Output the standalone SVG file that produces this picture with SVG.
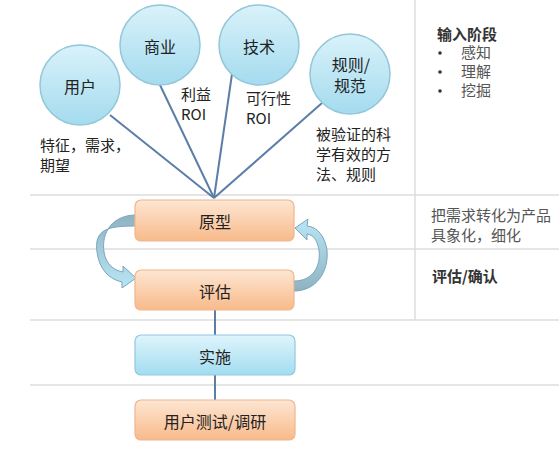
<svg xmlns="http://www.w3.org/2000/svg" width="559" height="457" viewBox="0 0 559 457">
<defs>
<linearGradient id="gCircle" x1="0" y1="0" x2="0" y2="1">
<stop offset="0" stop-color="#d9f2fa"/>
<stop offset="1" stop-color="#a4dbee"/>
</linearGradient>
<linearGradient id="gOrange" x1="0" y1="0" x2="0" y2="1">
<stop offset="0" stop-color="#fde6d3"/>
<stop offset="1" stop-color="#f8ba8a"/>
</linearGradient>
<linearGradient id="gBlue" x1="0" y1="0" x2="0" y2="1">
<stop offset="0" stop-color="#dff5fc"/>
<stop offset="1" stop-color="#a2dcf0"/>
</linearGradient>
<linearGradient id="gArrowL" x1="0" y1="0" x2="0" y2="1">
<stop offset="0" stop-color="#8fb2c2"/>
<stop offset="1" stop-color="#b8e6f6"/>
</linearGradient>
<linearGradient id="gArrowR" x1="0" y1="1" x2="0" y2="0">
<stop offset="0" stop-color="#8fb2c2"/>
<stop offset="1" stop-color="#b8e6f6"/>
</linearGradient>
</defs>
<style>
.grid{stroke:#dddddd;stroke-width:1.5;fill:none}
.circle{fill:url(#gCircle);stroke:#92c6d8;stroke-width:1.5}
.orange{fill:url(#gOrange);stroke:#efb68c;stroke-width:1.2}
.blue{fill:url(#gBlue);stroke:#92c8db;stroke-width:1.2}
.conn{stroke:#5b7ea6;stroke-width:2;fill:none}
.t{font-family:"Noto Sans CJK SC","Liberation Sans",sans-serif;font-size:16px;fill:#222}
.c{text-anchor:middle}
.lbl{font-family:"Noto Sans CJK SC","Liberation Sans",sans-serif;font-size:15px;fill:#222}
.rt{font-family:"Noto Sans CJK SC","Liberation Sans",sans-serif;font-size:15px;fill:#555}
.rb{font-family:"Noto Sans CJK SC","Liberation Sans",sans-serif;font-size:15px;fill:#333;font-weight:bold}
.arr{stroke:#7aa6bb;stroke-width:1}
</style>
<g id="grid">
<line class="grid" x1="30" y1="195" x2="559" y2="195"/>
<line class="grid" x1="30" y1="249" x2="559" y2="249"/>
<line class="grid" x1="30" y1="320" x2="559" y2="320"/>
<line class="grid" x1="30" y1="385" x2="559" y2="385"/>
<line class="grid" x1="415" y1="0" x2="415" y2="320"/>
</g>
<g id="connectors">
<line class="conn" x1="110" y1="115" x2="214" y2="198"/>
<line class="conn" x1="160" y1="85" x2="214" y2="198"/>
<line class="conn" x1="232" y1="74" x2="214" y2="198"/>
<line class="conn" x1="322" y1="103" x2="214" y2="198"/>
<line class="conn" x1="215" y1="310" x2="215" y2="335"/>
<line class="conn" x1="215" y1="375" x2="215" y2="400"/>
<path class="arr" fill="url(#gArrowL)" d="M136,215 C113,215 101,232 104,252 C106,264 113,270 123,272 L123,266 L136,278 L122,288 L122,282 C108,279 99,268 97,252 C94,229 108,226 136,226 Z"/>
<path class="arr" fill="url(#gArrowR)" d="M294,281 C313,281 321,266 319,250 C317,239 313,235 307,234 L307,240 L295,228 L308,219 L307,226 C318,227 325,237 327,250 C329,272 316,291 294,291 Z"/>
</g>
<g id="n-user"><circle class="circle" cx="80" cy="85" r="40"/><text class="t c" x="80" y="93">用户</text></g>
<g id="n-biz"><circle class="circle" cx="160" cy="45" r="40"/><text class="t c" x="160" y="53">商业</text></g>
<g id="n-tech"><circle class="circle" cx="259" cy="45" r="40"/><text class="t c" x="259" y="53">技术</text></g>
<g id="n-rule"><circle class="circle" cx="350" cy="74" r="40"/><text class="t c" x="351" y="71">规则/</text><text class="t c" x="350" y="92">规范</text></g>
<g id="labels">
<text class="lbl" x="40" y="151">特征，需求，</text>
<text class="lbl" x="40" y="171">期望</text>
<text class="lbl" x="181" y="100">利益</text>
<text class="lbl" x="181" y="120">ROI</text>
<text class="lbl" x="246" y="104">可行性</text>
<text class="lbl" x="246" y="124">ROI</text>
<text class="lbl" x="316" y="140">被验证的科</text>
<text class="lbl" x="316" y="160">学有效的方</text>
<text class="lbl" x="316" y="180">法、规则</text>
</g>
<g id="n-proto"><rect class="orange" x="135" y="200" width="159" height="41" rx="6"/><text class="t c" x="215" y="228">原型</text></g>
<g id="n-eval"><rect class="orange" x="135" y="270" width="159" height="40" rx="6"/><text class="t c" x="215" y="298">评估</text></g>
<g id="n-impl"><rect class="blue" x="135" y="335" width="160" height="40" rx="6"/><text class="t c" x="215" y="363">实施</text></g>
<g id="n-test"><rect class="orange" x="135" y="400" width="160" height="40" rx="6"/><text class="t c" x="215" y="428">用户测试/调研</text></g>
<g id="right">
<text class="rb" x="437" y="40">输入阶段</text>
<circle cx="440" cy="53" r="1.8" fill="#333"/>
<circle cx="440" cy="72" r="1.8" fill="#333"/>
<circle cx="440" cy="91" r="1.8" fill="#333"/>
<text class="rt" x="461" y="58">感知</text>
<text class="rt" x="461" y="77">理解</text>
<text class="rt" x="461" y="96">挖掘</text>
<text class="rt" x="431" y="221">把需求转化为产品</text>
<text class="rt" x="431" y="241">具象化，细化</text>
<text class="rb" x="432" y="282">评估/确认</text>
</g>
</svg>
